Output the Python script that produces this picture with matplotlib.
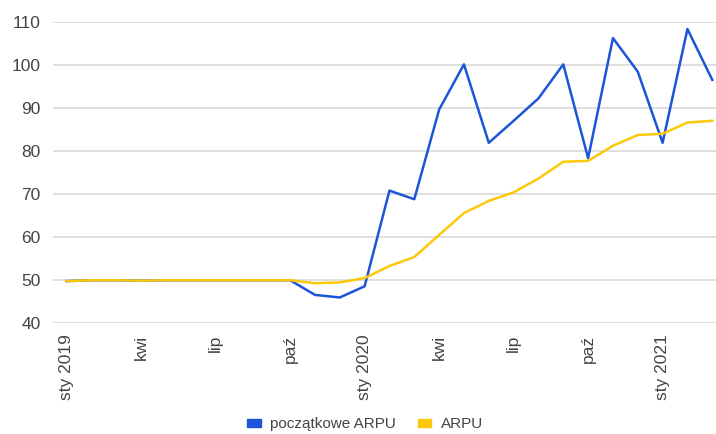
import matplotlib
matplotlib.use("Agg")
import matplotlib.pyplot as plt
from matplotlib.patches import Patch

plt.rcParams["font.family"] = ["Liberation Sans", "DejaVu Sans"]

# monthly data, sty 2019 .. mar 2021
months = list(range(27))
initial_arpu = [49.8, 50.0, 50.0, 49.9, 50.0, 50.0, 50.0, 50.0, 50.0, 50.0,
                46.6, 46.0, 48.6, 70.8, 68.8, 89.6, 100.1, 81.9, 87.0, 92.2,
                100.1, 78.3, 106.2, 98.4, 81.9, 108.3, 96.5]
arpu = [49.8, 50.0, 50.0, 49.9, 50.0, 50.0, 50.0, 50.0, 50.0, 50.0,
        49.3, 49.5, 50.5, 53.3, 55.4, 60.5, 65.6, 68.4, 70.4, 73.6,
        77.5, 77.7, 81.2, 83.7, 84.0, 86.6, 87.0]
tick_pos = [0, 3, 6, 9, 12, 15, 18, 21, 24]
tick_labels = ["sty 2019", "kwi", "lip", "paź", "sty 2020", "kwi", "lip", "paź", "sty 2021"]

blue = "#1d55d8"
yellow = "#fbc90a"
text_color = "#444444"

fig = plt.figure(figsize=(7.16, 4.34), dpi=100)
ax = fig.add_axes([0.074, 0.255, 0.926, 0.695])

ax.plot(months, initial_arpu, color=blue, lw=1.8, zorder=3)
ax.plot(months, arpu, color=yellow, lw=1.8, zorder=3)

ax.set_ylim(40, 110)
ax.set_yticks(range(40, 111, 10))
ax.set_xlim(-0.55, 26.15)
ax.set_xticks(tick_pos)
ax.set_xticklabels(tick_labels, rotation=90, va="top", ha="center")

ax.grid(axis="y", color="#d6d6d6", lw=1.1)
ax.set_axisbelow(True)
for s in ax.spines.values():
    s.set_visible(False)
ax.tick_params(axis="y", length=0, labelsize=12.5, colors=text_color, pad=9)
ax.tick_params(axis="x", length=0, labelsize=12.5, colors=text_color, pad=8)

handles = [Patch(color=blue, label="początkowe ARPU"), Patch(color=yellow, label="ARPU")]
fig.legend(handles=handles, loc="center", bbox_to_anchor=(0.51, 0.022), ncol=2,
           frameon=False, fontsize=11, handlelength=0.9, handleheight=0.35,
           handletextpad=0.6, columnspacing=1.4, labelcolor=text_color)

fig.savefig("out.png", dpi=100)
